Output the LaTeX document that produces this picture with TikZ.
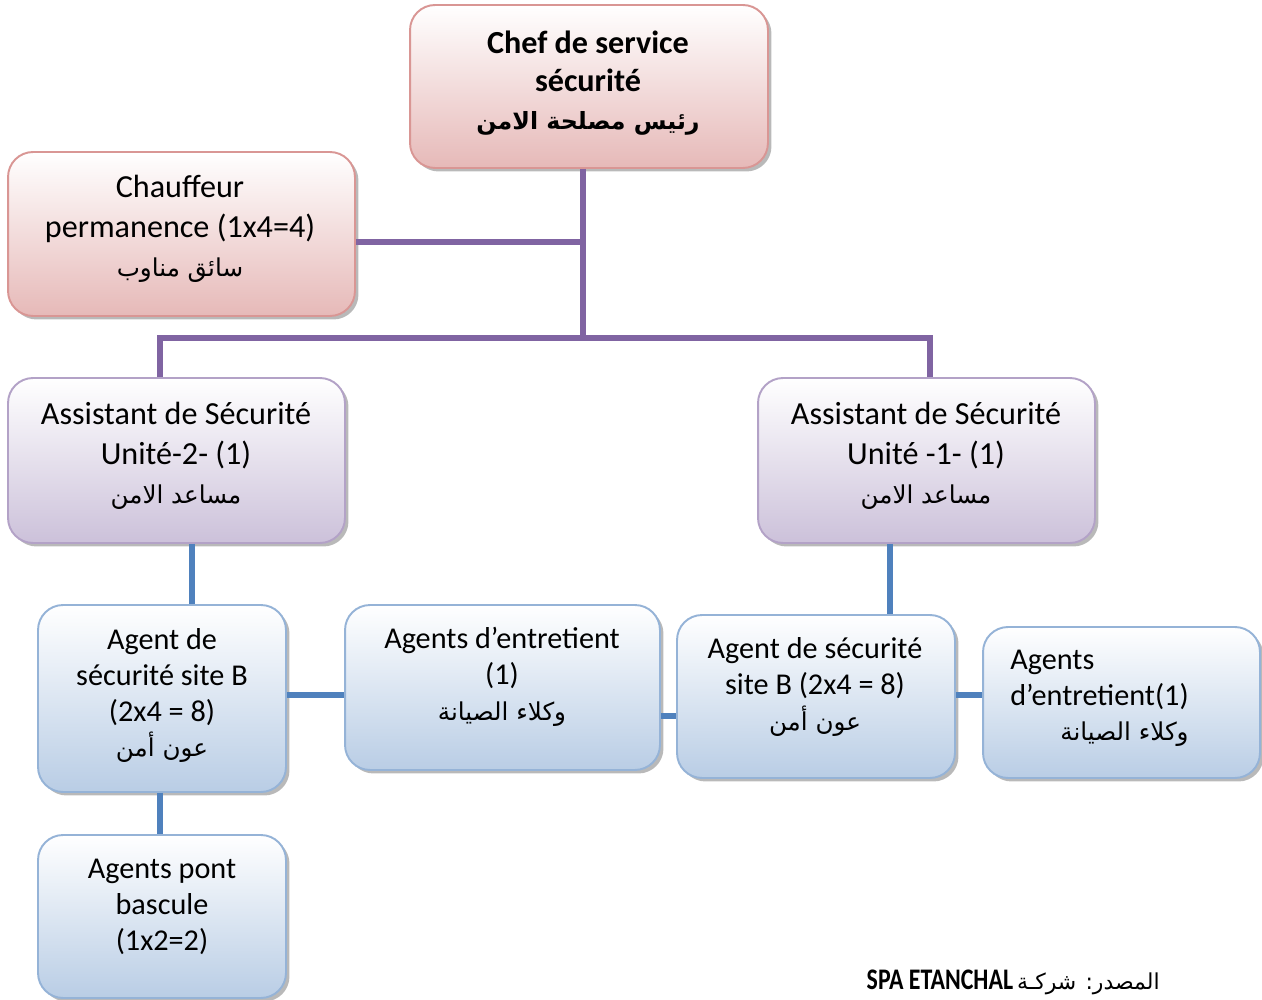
\documentclass[tikz,border=0pt]{standalone}
\usepackage{fontspec}
\setmainfont{Carlito}
\newfontfamily\arabicfont[Script=Arabic]{DejaVu Sans}
\TeXXeTstate=1
\usetikzlibrary{shadows}

% right-to-left Arabic run, set a little smaller than the Latin text
\newcommand{\artxt}[1]{{\fontsize{14}{16}\arabicfont\beginR #1\endR}}
\newcommand{\artxtbf}[1]{{\fontsize{13.5}{16}\arabicfont\bfseries\beginR #1\endR}}

\definecolor{pinkline}{HTML}{D99694}
\definecolor{pinkfill}{HTML}{E6B9B8}
\definecolor{lilacline}{HTML}{B3A2C7}
\definecolor{lilacfill}{HTML}{CCC1DA}
\definecolor{blueline}{HTML}{95B3D7}
\definecolor{bluefill}{HTML}{B9CDE5}
\definecolor{purplelink}{HTML}{8064A2}
\definecolor{bluelink}{HTML}{4F81BD}

\tikzset{
  box/.style={rectangle, rounded corners=0.5cm, line width=1.1pt, inner sep=0pt,
    drop shadow={shadow xshift=0.07cm, shadow yshift=-0.07cm, fill=black!50, opacity=0.55}},
  pinkbox/.style={box, draw=pinkline, top color=white, bottom color=pinkfill},
  lilacbox/.style={box, draw=lilacline, top color=white, bottom color=lilacfill},
  bluebox/.style={box, draw=blueline, top color=white, bottom color=bluefill},
  txt/.style={align=center, inner sep=0pt, font=\fontsize{18.3}{22.5}\selectfont},
  txtsmall/.style={align=center, inner sep=0pt, font=\fontsize{17.2}{20.3}\selectfont},
  plink/.style={draw=purplelink, line width=3.2pt},
  blink/.style={draw=bluelink, line width=3.2pt},
}

\begin{document}
\begin{tikzpicture}[x=0.02cm, y=-0.02cm]
\useasboundingbox (0,0) rectangle (1262,1000);

% boxes
\node[pinkbox, minimum width=7.16cm, minimum height=3.26cm] (chef) at (589,86.5) {};
\node[pinkbox, minimum width=6.94cm, minimum height=3.28cm] (chauf) at (181.5,234) {};
\node[lilacbox, minimum width=6.74cm, minimum height=3.30cm] (assL) at (176.5,460.5) {};
\node[lilacbox, minimum width=6.74cm, minimum height=3.30cm] (assR) at (926.5,460.5) {};
\node[bluebox, minimum width=4.96cm, minimum height=3.74cm] (agL) at (162,698.5) {};
\node[bluebox, minimum width=6.30cm, minimum height=3.30cm] (entM) at (502.5,687.5) {};
\node[bluebox, minimum width=5.56cm, minimum height=3.26cm] (agR) at (816,696.5) {};
\node[bluebox, minimum width=5.54cm, minimum height=3.02cm] (entR) at (1121.5,702.5) {};
\node[bluebox, minimum width=4.96cm, minimum height=3.26cm] (pont) at (162,916.5) {};

% labels
\node[txt, font=\fontsize{18.3}{21.6}\selectfont\bfseries] (chefT) at (588,83)
  {Chef de service\\sécurité\\\artxtbf{رئيس مصلحة الامن}};
\node[txt] (chaufT) at (180,229)
  {Chauffeur\\permanence (1x4=4)\\\artxt{سائق مناوب}};
\node[txt] (assLT) at (176,456)
  {Assistant de Sécurité\\Unité-2- (1)\\\artxt{مساعد الامن}};
\node[txt] (assRT) at (926,456)
  {Assistant de Sécurité\\Unité -1- (1)\\\artxt{مساعد الامن}};
\node[txtsmall] (agLT) at (162,696)
  {Agent de\\sécurité site B\\(2x4 = 8)\\\artxt{عون أمن}};
\node[txtsmall] (entMT) at (502,677)
  {Agents d’entretient\\(1)\\\artxt{وكلاء الصيانة}};
\node[txtsmall] (agRT) at (815,687)
  {Agent de sécurité\\site B (2x4 = 8)\\\artxt{عون أمن}};
\node[txtsmall, anchor=west] (entRT) at (1010,698)
  {\begin{tabular}{@{}l@{}}Agents\\d’entretient(1)\\\multicolumn{1}{@{}r@{}}{\artxt{وكلاء الصيانة}}\end{tabular}};
\node[txtsmall] (pontT) at (162,907)
  {Agents pont\\bascule\\(1x2=2)};

% source line
\node[anchor=east, inner sep=0pt] (src) at (1160,982)
  {\beginR{\fontsize{12.5}{15}\arabicfont المصدر: شركـة} \beginL\scalebox{0.8}[1]{\fontsize{17}{18}\selectfont\bfseries SPA ETANCHAL}\endL\endR};

% purple links
\coordinate (trunk) at (583,338);
\coordinate (hl) at (160,338);
\coordinate (hr) at (930,338);
\draw[plink] (chef.south -| trunk) -- (trunk);
\draw[plink] ([yshift=-0.16cm]chauf.east) -- ([yshift=-0.16cm]chauf.east -| trunk);
\draw[plink] (assL.north -| hl) -- (hl) -- (hr) -- (assR.north -| hr);

% blue links
\coordinate (vL) at (192,0);
\coordinate (vR) at (890,0);
\coordinate (vP) at (160,0);
\coordinate (hA) at (0,695);
\coordinate (hB) at (0,716);
\draw[blink] (assL.south -| vL) -- (agL.north -| vL);
\draw[blink] (assR.south -| vR) -- (agR.north -| vR);
\draw[blink] (agL.east |- hA) -- (entM.west |- hA);
\draw[blink] (entM.east |- hB) -- (agR.west |- hB);
\draw[blink] (agR.east |- hA) -- (entR.west |- hA);
\draw[blink] (agL.south -| vP) -- (pont.north -| vP);
\end{tikzpicture}
\end{document}
